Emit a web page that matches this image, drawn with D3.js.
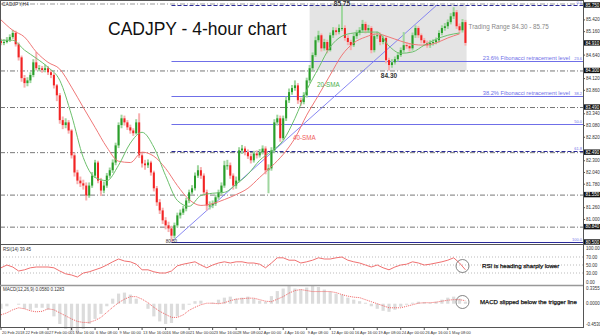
<!DOCTYPE html>
<html>
<head>
<meta charset="utf-8">
<script src="https://cdn.jsdelivr.net/npm/d3@7"></script>
<style>
  body { margin: 0; background: #fff; }
  svg { display: block; font-family: Arial, "Liberation Sans", sans-serif; }
</style>
</head>
<body>
<div id="chart"></div>
<script>
// CADJPY, candles in 8-hour steps (open = previous close)
const firstOpen = 84.95;
const closes = [84.91,84.93,84.97,85.04,85.13,84.88,84.59,84.13,84.02,84.08,
  84.20,84.48,84.35,84.35,84.31,84.35,84.26,84.20,83.97,83.75,
  83.20,83.09,83.15,82.97,82.42,82.04,81.86,81.80,81.75,81.53,
  81.75,81.97,82.26,81.86,81.64,81.75,81.97,82.09,82.26,82.64,
  83.09,83.24,83.15,83.04,82.97,82.91,83.15,82.42,82.24,82.20,
  82.26,82.04,81.69,81.38,81.20,80.98,80.87,80.80,80.64,80.87,
  81.09,81.15,81.24,81.42,81.60,81.69,81.97,82.09,81.97,81.60,
  81.31,81.31,81.35,81.49,81.60,81.75,82.20,82.20,81.97,81.75,
  81.86,82.53,82.57,82.49,82.40,82.31,82.46,82.42,82.49,82.57,
  82.09,82.13,82.53,83.15,83.24,82.80,83.24,83.64,83.82,83.91,
  83.97,83.64,83.60,83.75,84.08,84.35,84.64,84.97,85.08,84.79,
  84.93,84.75,85.08,85.19,85.15,85.24,85.24,85.02,84.93,84.86,
  85.06,85.13,85.19,85.33,85.19,85.24,84.75,85.06,85.08,84.93,
  85.02,84.53,84.42,84.48,84.55,84.64,84.75,84.86,84.84,84.79,
  85.08,85.24,85.08,84.97,84.91,84.86,84.91,84.93,84.97,85.13,
  85.24,85.28,85.37,85.50,85.59,85.28,85.19,85.37,84.91];
const highs = [85.00,84.99,85.04,85.10,85.20,85.18,84.92,84.63,84.20,84.15,
  84.26,84.55,84.71,84.42,84.40,84.43,84.40,84.31,84.24,84.00,
  83.80,83.28,83.24,83.20,83.00,82.48,82.10,81.95,81.88,81.82,
  81.82,82.05,82.32,82.30,81.92,81.84,82.03,82.15,82.33,82.70,
  83.15,83.32,83.30,83.20,83.10,83.02,83.22,83.35,82.48,82.32,
  82.33,82.30,82.08,81.74,81.45,81.26,81.05,80.95,80.86,80.93,
  81.15,81.22,81.30,81.48,81.66,81.76,82.04,82.20,82.16,82.02,
  81.66,81.40,81.42,81.55,81.66,81.82,82.30,82.32,82.26,82.02,
  81.95,82.60,82.65,82.62,82.55,82.46,82.52,82.53,82.56,82.64,
  82.62,82.22,82.60,83.22,83.32,83.30,83.30,83.72,83.90,83.98,
  84.08,84.02,83.70,83.82,84.14,84.42,84.70,85.05,85.18,85.12,
  85.00,84.98,85.14,85.26,85.25,85.32,85.75,85.30,85.08,84.98,
  85.12,85.20,85.26,85.42,85.38,85.31,85.28,85.12,85.16,85.14,
  85.08,85.06,84.58,84.55,84.61,84.70,84.81,85.15,84.93,84.90,
  85.14,85.30,85.28,85.12,85.02,84.96,84.97,84.99,85.03,85.19,
  85.30,85.35,85.43,85.57,85.70,85.64,85.34,85.44,85.42];
const lows = [84.86,84.86,84.90,84.93,85.00,84.83,84.52,84.05,83.92,83.95,
  84.02,84.15,84.30,84.28,84.25,84.26,84.20,84.13,83.90,83.62,
  83.12,83.00,83.02,82.90,82.35,81.95,81.78,81.72,81.66,81.42,
  81.48,81.70,81.92,81.80,81.52,81.58,81.70,81.92,82.03,82.20,
  82.58,83.02,83.08,82.98,82.90,82.85,82.88,82.36,82.15,82.10,
  82.14,81.97,81.62,81.30,81.12,80.90,80.78,80.72,80.50,80.58,
  80.82,81.02,81.10,81.18,81.36,81.55,81.64,81.92,81.90,81.52,
  81.20,81.22,81.25,81.30,81.44,81.55,81.70,82.10,81.90,81.66,
  81.68,81.82,82.45,82.42,82.34,82.24,82.26,82.35,82.37,82.44,
  82.00,81.58,82.08,82.48,83.08,82.72,82.76,83.18,83.58,83.76,
  83.85,83.56,83.52,83.55,83.70,84.02,84.30,84.60,84.92,84.72,
  84.74,84.68,84.72,85.02,85.08,85.10,85.18,84.96,84.86,84.75,
  84.82,85.00,85.08,85.14,85.12,85.14,84.68,84.70,85.00,84.86,
  84.88,84.46,84.30,84.36,84.43,84.50,84.60,84.70,84.78,84.72,
  84.74,85.02,85.02,84.90,84.84,84.80,84.80,84.85,84.88,84.92,
  85.08,85.18,85.22,85.32,85.44,85.22,85.12,85.14,84.85];

// moving averages, one value every 4 candles
const smaStep = 4;
const sma20 = [84.97,84.97,84.75,84.57,84.37,84.08,83.31,82.37,81.93,81.86,
  82.20,82.69,82.93,82.60,81.97,81.42,81.29,81.53,81.58,81.60,
  81.78,82.00,82.31,82.51,82.75,83.24,83.86,84.35,84.82,85.06,
  85.13,85.15,85.15,84.84,84.68,84.71,84.86,84.99,85.08,85.13];
const sma40 = [85.42,85.19,85.04,84.71,84.48,84.33,83.93,83.48,83.04,82.60,
  82.29,82.26,82.49,82.40,82.13,81.75,81.44,81.31,81.35,81.44,
  81.55,81.69,81.93,82.17,82.44,82.80,83.31,83.75,84.20,84.64,
  84.91,85.04,85.11,85.04,84.95,84.88,84.86,84.91,85.02,85.11];

// oscillators, one value every 2 candles
const oscStep = 2;
const rsi = [43,50,45,35,38,43,45,45,45,43,35,28,25,20,30,33,38,43,50,58,
  65,60,58,52,38,38,33,30,30,35,48,52,55,58,50,43,50,55,58,55,
  58,58,55,55,52,43,55,68,68,62,62,55,58,62,68,65,65,68,70,62,
  58,55,50,45,50,43,38,45,50,52,58,55,50,52,55,58,62,68,55,38];
const macd = [-0.10,-0.05,0.00,-0.02,-0.10,-0.12,-0.08,-0.08,-0.12,-0.25,
  -0.40,-0.50,-0.55,-0.55,-0.50,-0.40,-0.30,-0.20,-0.05,0.10,
  0.20,0.22,0.18,0.10,0.00,-0.10,-0.25,-0.35,-0.40,-0.38,
  -0.25,-0.12,-0.02,0.05,0.06,0.00,0.02,0.08,0.12,0.14,
  0.10,0.12,0.14,0.10,0.06,0.04,0.15,0.25,0.30,0.35,
  0.30,0.28,0.32,0.35,0.33,0.28,0.24,0.20,0.18,0.12,
  0.08,0.05,0.02,-0.05,-0.10,-0.14,-0.16,-0.12,-0.06,-0.02,
  0.02,0.04,0.03,0.02,0.04,0.08,0.12,0.14,0.10,0.04];
const macdSignal = [-0.22,-0.18,-0.12,-0.08,-0.10,-0.14,-0.16,-0.15,-0.10,-0.12,
  -0.18,-0.24,-0.30,-0.35,-0.37,-0.37,-0.33,-0.27,-0.17,-0.07,
  0.02,0.09,0.14,0.14,0.09,0.02,-0.07,-0.15,-0.21,-0.27,
  -0.27,-0.22,-0.13,-0.07,-0.02,0.01,0.01,0.00,0.02,0.06,
  0.09,0.10,0.11,0.11,0.08,0.05,0.04,0.09,0.14,0.21,
  0.26,0.28,0.26,0.24,0.24,0.24,0.24,0.22,0.18,0.15,
  0.13,0.12,0.08,0.04,0.00,-0.04,-0.08,-0.08,-0.08,-0.05,
  -0.02,0.01,0.02,0.02,0.03,0.05,0.07,0.08,0.08,0.06];

const timeLabels = ["20 Feb 2018","22 Feb 08:00","27 Feb 00:00","1 Mar 16:00","6 Mar 08:00",
  "9 Mar 00:00","13 Mar 16:00","16 Mar 08:00","21 Mar 00:00","23 Mar 16:00",
  "28 Mar 08:00","2 Apr 00:00","4 Apr 16:00","9 Apr 08:00","12 Apr 00:00",
  "16 Apr 16:00","19 Apr 08:00","24 Apr 00:00","26 Apr 16:00","1 May 08:00"];
const labelEvery = 8;
const priceTicks = [85.42,85.16,84.90,84.64,84.38,84.12,83.86,83.60,83.34,83.08,
  82.82,82.56,82.30,82.04,81.78,81.52,81.26,81.00,80.74];
const rsiTicks = [100, 70, 50, 30, 0];
const macdTicks = [0.3355, 0, -0.4530];

// levels
const swingHigh = 85.75, swingLow = 80.50;
const swingLowIdx = 58;
const fibLevels = [0, 23.6, 38.2, 50, 61.8, 100];
const srLevels = [84.30, 83.49, 82.49, 81.55, 80.84];
const rangeLow = 84.30, rangeHigh = 85.75, rangeStart = 105, rangeEnd = 158.4;
const trendFrom = {i: 58, p: 80.50}, trendTo = {i: 148.3, p: 85.75};
const peakIdx = 116, dipIdx = 132;

const W = 600, H = 336, plotR = 583;
const svg = d3.select("#chart").append("svg").attr("width", W).attr("height", H);

const x = d3.scaleLinear().domain([0, 198]).range([1, plotR]);
const y = d3.scaleLinear().domain([swingLow, swingHigh]).range([242, 5]);
const yR = d3.scaleLinear().domain([0, 100]).range([285, 245]);
const yM = d3.scaleLinear().domain([-0.46, 0.37]).range([327, 285]);

const fibPrice = f => swingHigh - (swingHigh - swingLow) * f / 100;
const blue = "#6f6fe8", darkBlue = "#2a2a9a";

// trading range box
svg.append("rect")
  .attr("x", x(rangeStart)).attr("y", y(rangeHigh))
  .attr("width", x(rangeEnd) - x(rangeStart)).attr("height", y(rangeLow) - y(rangeHigh))
  .attr("fill", "#e4e4e4");

// support / resistance lines
svg.selectAll("line.sr").data(srLevels).join("line")
  .attr("x1", 0).attr("x2", plotR).attr("y1", d => y(d) + 0.5).attr("y2", d => y(d) + 0.5)
  .attr("stroke", "#777").attr("stroke-dasharray", "5,2,1,2");
svg.append("line").attr("x1", 0).attr("x2", plotR).attr("y1", y(swingHigh) - 1).attr("y2", y(swingHigh) - 1)
  .attr("stroke", "#999").attr("stroke-dasharray", "5,2,1,2");

// fibonacci lines
svg.selectAll("line.fib").data(fibLevels).join("line")
  .attr("x1", x(swingLowIdx)).attr("x2", plotR)
  .attr("y1", d => Math.round(y(fibPrice(d))) + 0.5).attr("y2", d => Math.round(y(fibPrice(d))) + 0.5)
  .attr("stroke", d => (d === 0 || d === 61.8 || d === 100) ? darkBlue : blue)
  .attr("stroke-width", d => d === 100 ? 1.2 : 1)
  .attr("stroke-dasharray", d => (d === 0 || d === 61.8) ? "4,2" : null);
svg.selectAll("text.fib").data(fibLevels).join("text")
  .attr("x", plotR - 1).attr("y", d => y(fibPrice(d)) - 1)
  .attr("text-anchor", "end").attr("font-size", 4).attr("fill", blue)
  .text(d => d.toFixed(1));

// trend line
svg.append("line")
  .attr("x1", x(trendFrom.i)).attr("y1", y(trendFrom.p))
  .attr("x2", x(trendTo.i)).attr("y2", y(trendTo.p))
  .attr("stroke", "#7b7bf0").attr("stroke-width", 0.9);

// candles
const candles = closes.map((c, i) => ({i, o: i ? closes[i - 1] : firstOpen, h: highs[i], l: lows[i], c}));
const gC = svg.append("g");
gC.selectAll("line").data(candles).join("line")
  .attr("x1", d => x(d.i)).attr("x2", d => x(d.i))
  .attr("y1", d => y(d.h)).attr("y2", d => y(d.l))
  .attr("stroke", d => d.c >= d.o ? "#9fd69f" : "#f7b0b0").attr("stroke-width", 2);
gC.selectAll("rect").data(candles).join("rect")
  .attr("x", d => x(d.i) - 1).attr("width", 2)
  .attr("y", d => y(Math.max(d.o, d.c)))
  .attr("height", d => Math.max(1, Math.abs(y(d.o) - y(d.c))))
  .attr("fill", d => d.c >= d.o ? "#2a9e2a" : "#f22424");

// moving averages
const smaLine = d3.line().x((d, k) => x(k * smaStep)).y(d => y(d)).curve(d3.curveMonotoneX);
svg.append("path").attr("d", smaLine(sma40)).attr("fill", "none").attr("stroke", "#f07878").attr("stroke-width", 1);
svg.append("path").attr("d", smaLine(sma20)).attr("fill", "none").attr("stroke", "#6cc06c").attr("stroke-width", 1);

// annotations on price panel
svg.append("text").attr("x", 2).attr("y", 6).attr("font-size", 5).attr("fill", "#333").text("CADJPY,H4");
svg.append("text").attr("x", 108).attr("y", 35).attr("font-size", 17.5).attr("fill", "#111").text("CADJPY - 4-hour chart");
svg.append("text").attr("x", x(rangeEnd) + 2).attr("y", 29).attr("font-size", 6.3).attr("fill", "#888")
  .text(`Trading Range ${rangeLow.toFixed(2)} - ${rangeHigh.toFixed(2)}`);
svg.append("text").attr("x", x(peakIdx)).attr("y", y(swingHigh) + 1).attr("text-anchor", "middle")
  .attr("font-size", 6.5).attr("font-weight", "bold").attr("fill", "#333").text(swingHigh.toFixed(2));
svg.append("text").attr("x", x(dipIdx)).attr("y", y(rangeLow) + 8).attr("text-anchor", "middle")
  .attr("font-size", 6.5).attr("font-weight", "bold").attr("fill", "#333").text(rangeLow.toFixed(2));
svg.append("text").attr("x", x(swingLowIdx)).attr("y", y(swingLow) + 1).attr("text-anchor", "middle")
  .attr("font-size", 4.5).attr("fill", "#333").text(swingLow.toFixed(2));
[[23.6, "23.6% Fibonacci retracement level"], [38.2, "38.2% Fibonacci retracement level"]].forEach(([f, t]) => {
  svg.append("text").attr("x", plotR - 13).attr("y", y(fibPrice(f)) - 0.5).attr("text-anchor", "end")
    .attr("font-size", 5.7).attr("fill", blue).text(t);
});
svg.append("text").attr("x", 317).attr("y", 87).attr("font-size", 6.3).attr("fill", "#4caf4c").text("20-SMA");
svg.append("text").attr("x", 293).attr("y", 140).attr("font-size", 6.3).attr("fill", "#f06060").text("40-SMA");

// RSI panel
svg.selectAll("line.rl").data([70, 50, 30]).join("line")
  .attr("x1", 0).attr("x2", plotR).attr("y1", d => yR(d)).attr("y2", d => yR(d))
  .attr("stroke", "#bbb").attr("stroke-dasharray", "1,2");
svg.append("path")
  .attr("d", d3.line().x((d, k) => x(k * oscStep)).y(d => yR(d))(rsi))
  .attr("fill", "none").attr("stroke", "#f07070").attr("stroke-width", 1);
svg.append("text").attr("x", 3).attr("y", 251).attr("font-size", 4.5).attr("fill", "#333").text("RSI(14) 39.45");
svg.append("circle").attr("cx", x(157)).attr("cy", 266).attr("r", 6.5).attr("fill", "none").attr("stroke", "#666").attr("stroke-width", 0.8);
svg.append("text").attr("x", 482).attr("y", 268).attr("font-size", 6.1).attr("fill", "#111")
  .attr("stroke", "#111").attr("stroke-width", 0.25).text("RSI is heading sharply lower");

// MACD panel
svg.selectAll("rect.m").data(macd).join("rect")
  .attr("x", (d, k) => x(k * oscStep) - 1.6).attr("width", 3.2)
  .attr("y", d => Math.min(yM(d), yM(0))).attr("height", d => Math.abs(yM(d) - yM(0)))
  .attr("fill", "#dcdcdc");
svg.append("path")
  .attr("d", d3.line().x((d, k) => x(k * oscStep)).y(d => yM(d))(macdSignal))
  .attr("fill", "none").attr("stroke", "#f06060").attr("stroke-width", 1).attr("stroke-dasharray", "1,1");
svg.append("text").attr("x", 3).attr("y", 291).attr("font-size", 4.5).attr("fill", "#333").text("MACD(12,26,9) 0.0580 0.1283");
svg.append("circle").attr("cx", x(157)).attr("cy", 302).attr("r", 6.5).attr("fill", "none").attr("stroke", "#666").attr("stroke-width", 0.8);
svg.append("text").attr("x", 480).attr("y", 304).attr("font-size", 6.1).attr("fill", "#111")
  .attr("stroke", "#111").attr("stroke-width", 0.25).text("MACD slipped below the trigger line");

// frames
svg.append("rect").attr("x", 0.5).attr("y", 0.5).attr("width", plotR).attr("height", 327).attr("fill", "none").attr("stroke", "#555");
svg.append("line").attr("x1", 0).attr("x2", plotR).attr("y1", 244.5).attr("y2", 244.5).attr("stroke", "#555");
svg.append("line").attr("x1", 0).attr("x2", plotR).attr("y1", 285.5).attr("y2", 285.5).attr("stroke", "#999").attr("stroke-width", 1.5);

// right price axis: black boxes for marked levels, plain ticks where there is room
const gA = svg.append("g").attr("font-size", 4.5).attr("fill", "#333");
const marked = [swingHigh, closes[closes.length - 1], ...srLevels, swingLow];
priceTicks.filter(p => marked.every(m => Math.abs(y(m) - y(p)) > 5.5)).forEach(p => {
  gA.append("line").attr("x1", plotR).attr("x2", plotR + 2).attr("y1", y(p)).attr("y2", y(p)).attr("stroke", "#555");
  gA.append("text").attr("x", plotR + 3).attr("y", y(p) + 1.6).text(p.toFixed(3));
});
marked.forEach(p => {
  gA.append("rect").attr("x", plotR + 1).attr("y", y(p) - 2.7).attr("width", 16).attr("height", 5.4).attr("fill", "#111");
  gA.append("text").attr("x", plotR + 2.5).attr("y", y(p) + 1.6).attr("fill", "#fff").text(p.toFixed(3));
});
rsiTicks.forEach(v => {
  const yy = Math.min(Math.max(yR(v) + 1.6, 249.5), 283.5);
  gA.append("text").attr("x", plotR + 3).attr("y", yy).text(v.toFixed(2));
});
macdTicks.forEach(v => {
  const yy = Math.min(Math.max(yM(v) + 1.6, 290), 326);
  gA.append("text").attr("x", plotR + 3).attr("y", yy).text(v.toFixed(4));
});

// time axis
const gT = svg.append("g").attr("font-size", 4).attr("fill", "#333");
timeLabels.forEach((t, j) => {
  const xi = x(j * labelEvery);
  gT.append("line").attr("x1", xi).attr("x2", xi).attr("y1", 327.5).attr("y2", 330).attr("stroke", "#555");
  gT.append("text").attr("x", xi + 1).attr("y", 334).text(t);
});
</script>
</body>
</html>
